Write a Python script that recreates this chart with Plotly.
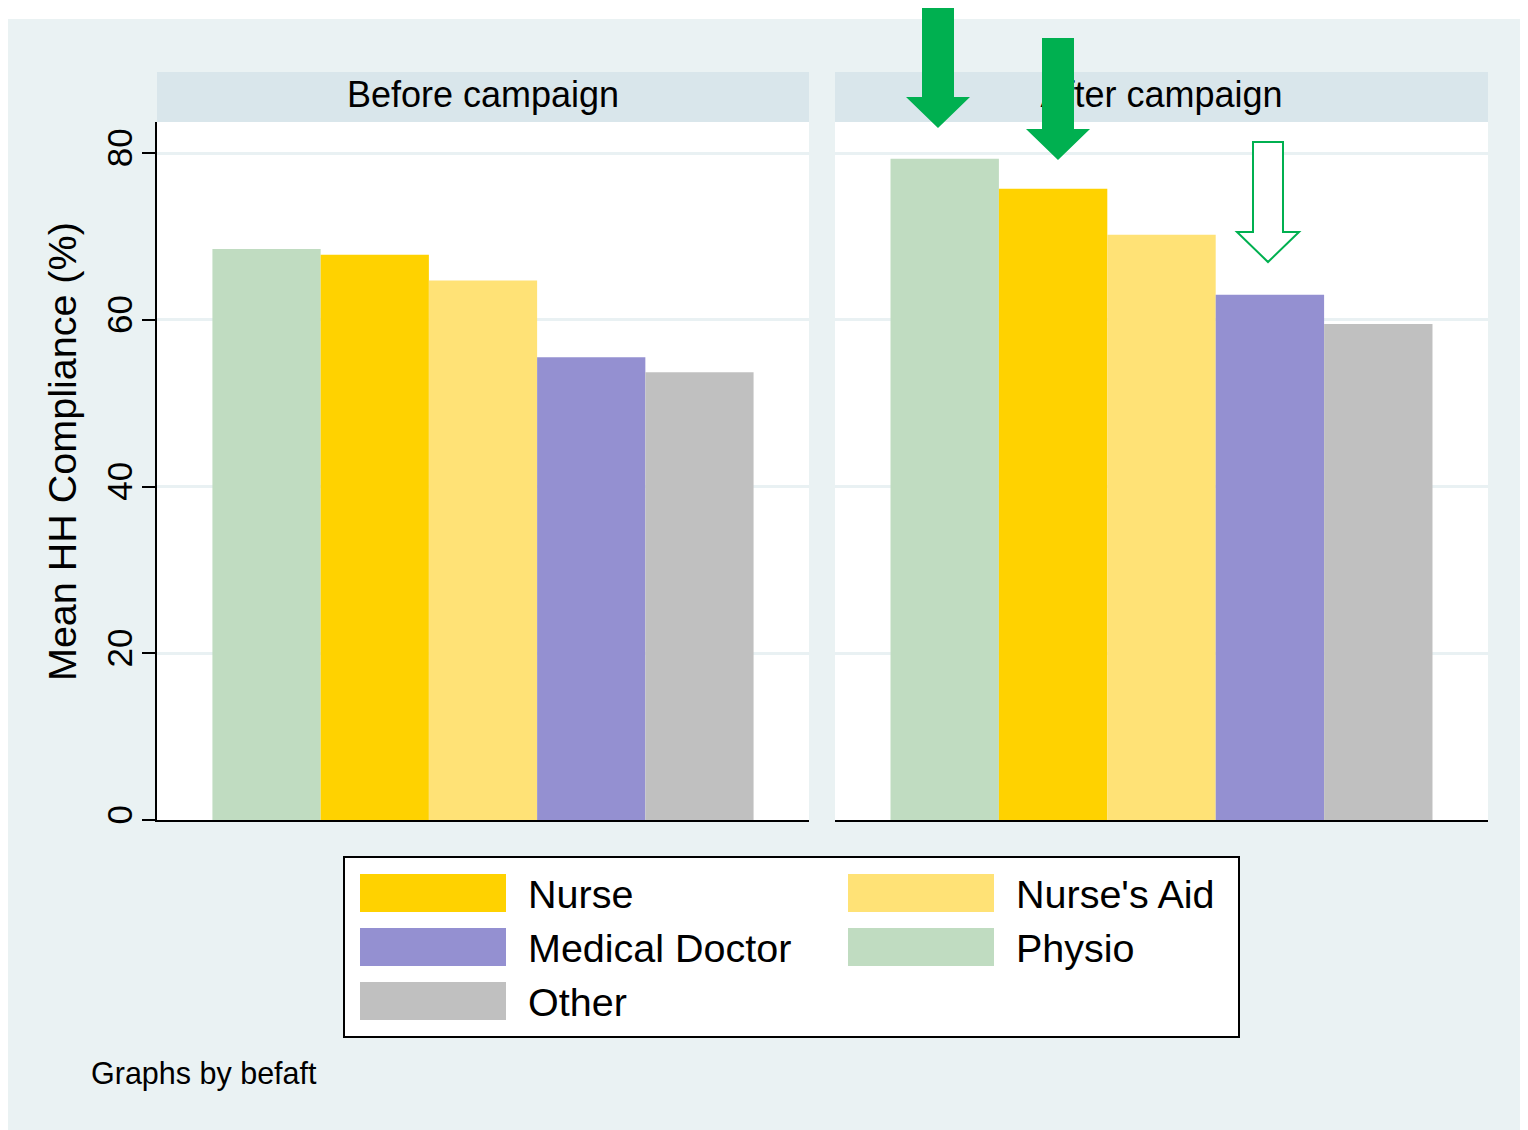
import plotly.graph_objects as go

# ---------------- data ----------------
panels = ["Before campaign", "After campaign"]
professions = ["Physio", "Nurse", "Nurse's Aid", "Medical Doctor", "Other"]
before_values = [68.5, 67.8, 64.7, 55.5, 53.7]
after_values = [79.3, 75.7, 70.2, 63.0, 59.5]
y_ticks = [0, 20, 40, 60, 80]
legend_order = ["Nurse", "Nurse's Aid", "Medical Doctor", "Physio", "Other"]

# ---------------- style ----------------
colors = {
    "Physio": "#C0DCC1",
    "Nurse": "#FFD200",
    "Nurse's Aid": "#FFE276",
    "Medical Doctor": "#9490D1",
    "Other": "#C0C0C0",
}
FONT = "Liberation Sans, Arial, Helvetica, sans-serif"
BG = "#EAF2F3"
HEADER = "#D9E6EB"
GRID = "#E9F1F3"
GREEN = "#00B050"

W, H = 1528, 1130
OFF = 8  # page body margin


def px(x):
    return (x - OFF) / W


def py(y):
    return 1 - (y - OFF) / H


fig = go.Figure()

for i, p in enumerate(professions):
    fig.add_trace(go.Bar(
        x=[panels[0]], y=[before_values[i]], name=p, xaxis="x", yaxis="y",
        marker=dict(color=colors[p], line=dict(width=0)), showlegend=False))
    fig.add_trace(go.Bar(
        x=[panels[1]], y=[after_values[i]], name=p, xaxis="x2", yaxis="y2",
        marker=dict(color=colors[p], line=dict(width=0)), showlegend=False))

plot_top, plot_bot = 122, 820
y80 = 153
y_max = 80 * (plot_bot - plot_top) / (plot_bot - y80)

xa = dict(showline=True, linecolor="black", linewidth=2, showticklabels=False,
          ticks="", showgrid=False, zeroline=False, range=[-0.5, 0.5])
ya = dict(range=[0, y_max], tickvals=y_ticks, showgrid=True, gridcolor=GRID,
          gridwidth=2.5, zeroline=False, domain=[py(plot_bot), py(plot_top)])

fig.update_layout(
    width=W, height=H,
    margin=dict(l=0, r=0, t=0, b=0, autoexpand=False),
    paper_bgcolor=BG, plot_bgcolor="white",
    barmode="group", bargap=0.17, bargroupgap=0,
    showlegend=False,
    font=dict(family=FONT, color="black"),
    xaxis=dict(xa, domain=[px(157), px(809)], anchor="y"),
    xaxis2=dict(xa, domain=[px(835), px(1488)], anchor="y2"),
    yaxis=dict(ya, anchor="x", showline=True, linecolor="black", linewidth=2,
               ticks="outside", ticklen=13, tickwidth=2, tickcolor="black",
               tickangle=-90, tickfont=dict(size=35, family=FONT, color="black"),
               ticklabelstandoff=-4),
    yaxis2=dict(ya, anchor="x2", matches="y", showline=False, ticks="",
                showticklabels=False),
)

shapes = []
# white strip above the outer background
shapes.append(dict(type="rect", xref="paper", yref="paper", x0=0, x1=1, y0=py(19), y1=1,
                   fillcolor="white", line=dict(width=0), layer="below"))

# panel headers (background + label placed in a slightly raised transparent box)
for title, (x0, x1) in zip(panels, [(157, 809), (835, 1488)]):
    shapes.append(dict(type="rect", xref="paper", yref="paper",
                       x0=px(x0), x1=px(x1), y0=py(122), y1=py(72),
                       fillcolor=HEADER, line=dict(width=0), layer="above"))
    shapes.append(dict(type="rect", xref="paper", yref="paper",
                       x0=px(x0), x1=px(x1), y0=py(116), y1=py(66),
                       fillcolor="rgba(0,0,0,0)", line=dict(width=0), layer="above",
                       label=dict(text=title, textposition="middle center",
                                  font=dict(size=36, family=FONT, color="black"))))


def arrow_path(cx, top, shaft_w, head_y, head_w, tip_y):
    pts = [
        (cx - shaft_w / 2, top), (cx + shaft_w / 2, top),
        (cx + shaft_w / 2, head_y), (cx + head_w / 2, head_y),
        (cx, tip_y), (cx - head_w / 2, head_y), (cx - shaft_w / 2, head_y),
    ]
    return "M " + " L ".join(f"{px(x):.5f},{py(y):.5f}" for x, y in pts) + " Z"


shapes.append(dict(type="path", xref="paper", yref="paper",
                   path=arrow_path(938, 6, 32, 97, 64, 128),
                   fillcolor=GREEN, line=dict(width=0), layer="above"))
shapes.append(dict(type="path", xref="paper", yref="paper",
                   path=arrow_path(1058, 38, 32, 129, 64, 160),
                   fillcolor=GREEN, line=dict(width=0), layer="above"))
shapes.append(dict(type="path", xref="paper", yref="paper",
                   path=arrow_path(1268, 142, 30, 232, 62, 262),
                   fillcolor="white", line=dict(color=GREEN, width=2), layer="above"))

# legend box
shapes.append(dict(type="rect", xref="paper", yref="paper",
                   x0=px(344), x1=px(1239), y0=py(1037), y1=py(857),
                   fillcolor="white", line=dict(color="black", width=2), layer="above"))

annotations = []
row_tops = [874, 928, 982]
col_x = [360, 848]
for k, name in enumerate(legend_order):
    r, c = divmod(k, 2)
    x0 = col_x[c]
    y0 = row_tops[r]
    shapes.append(dict(type="rect", xref="paper", yref="paper",
                       x0=px(x0), x1=px(x0 + 146), y0=py(y0 + 38), y1=py(y0),
                       fillcolor=colors[name], line=dict(width=0), layer="above"))
    annotations.append(dict(text=name, xref="paper", yref="paper",
                            x=px(x0 + 166), y=py(y0 + 20), xanchor="left", yanchor="middle",
                            showarrow=False, font=dict(size=39.5, family=FONT, color="black")))

annotations.append(dict(text="Mean HH Compliance (%)", xref="paper", yref="paper",
                        x=px(62), y=py(452), textangle=-90, xanchor="center", yanchor="middle",
                        showarrow=False, font=dict(size=39.5, family=FONT, color="black")))
annotations.append(dict(text="Graphs by befaft", xref="paper", yref="paper",
                        x=px(89), y=py(1073), xanchor="left", yanchor="middle",
                        showarrow=False, font=dict(size=30.5, family=FONT, color="black")))

fig.update_layout(shapes=shapes, annotations=annotations)
fig.write_html("out.html")
